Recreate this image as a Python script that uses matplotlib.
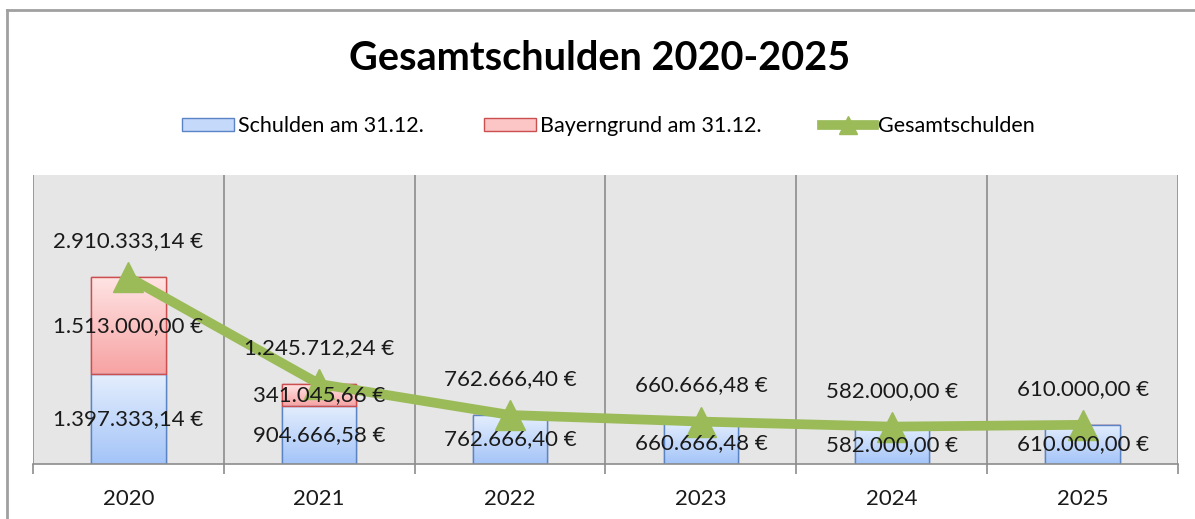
import numpy as np
import matplotlib.pyplot as plt
from matplotlib.patches import Patch
from matplotlib.lines import Line2D
from matplotlib.colors import LinearSegmentedColormap

# Data
years = ['2020', '2021', '2022', '2023', '2024', '2025']
schulden = [1397333.14, 904666.58, 762666.40, 660666.48, 582000.00, 610000.00]
bayerngrund = [1513000.00, 341045.66, 0, 0, 0, 0]
gesamt = [2910333.14, 1245712.24, 762666.40, 660666.48, 582000.00, 610000.00]

plt.rcParams['font.family'] = ['Lato', 'DejaVu Sans']


def euro(v):
    s = f"{v:,.2f}"
    s = s.replace(',', 'X').replace('.', ',').replace('X', '.')
    return s + ' €'


W, H = 1195, 519
fig = plt.figure(figsize=(W / 100, H / 100), dpi=100)

# outer chart border (left and top only visible)
fig.add_artist(Line2D([7 / W, 7 / W], [0, 1 - 10 / H], color='#a0a0a0', lw=2, transform=fig.transFigure))
fig.add_artist(Line2D([7 / W, 1], [1 - 10 / H, 1 - 10 / H], color='#a0a0a0', lw=2, transform=fig.transFigure))

ax = fig.add_axes([33 / W, 1 - 464 / H, (1178 - 33) / W, (464 - 175) / H])
ax.set_facecolor('#e6e6e6')

x = np.arange(len(years))
bw = 0.39
b1 = ax.bar(x, schulden, bw, color='#c5d9fb', edgecolor='#5b84c4', lw=1, zorder=2)
b2 = ax.bar(x, bayerngrund, bw, bottom=schulden, color='#fcc6c6', edgecolor='#cc4f4f', lw=1, zorder=2)

# vertical gradients inside the bars
grad = np.linspace(0, 1, 100).reshape(-1, 1)
cm_blue = LinearSegmentedColormap.from_list('b', ['#a4c4f8', '#e4eefd'])
cm_red = LinearSegmentedColormap.from_list('r', ['#f7a3a3', '#ffe4e4'])
for bars, cm in ((b1, cm_blue), (b2, cm_red)):
    for p in bars:
        if p.get_height() <= 0:
            continue
        x0, y0 = p.get_x(), p.get_y()
        im = ax.imshow(grad, cmap=cm, origin='lower', aspect='auto',
                       extent=[x0, x0 + p.get_width(), y0, y0 + p.get_height()], zorder=2.1)
        im.set_clip_path(p)
        ax.add_patch(plt.Rectangle((x0, y0), p.get_width(), p.get_height(), fill=False,
                                   edgecolor=p.get_edgecolor(), lw=1, zorder=2.2))

ax.plot(x, gesamt, color='#9bbb59', lw=7, marker='^', markersize=21, zorder=4,
        solid_joinstyle='round')

ax.set_xlim(-0.5, len(years) - 0.5)
ax.set_ylim(0, 4500000)

# data labels
tc = '#1a1a1a'
fs = 16
for i in range(len(years)):
    ax.text(x[i], schulden[i] / 2, euro(schulden[i]), ha='center', va='center', fontsize=fs, color=tc, zorder=5)
    if bayerngrund[i] > 0:
        ax.text(x[i], schulden[i] + bayerngrund[i] / 2, euro(bayerngrund[i]), ha='center', va='center',
                fontsize=fs, color=tc, zorder=5)
    ax.annotate(euro(gesamt[i]), (x[i], gesamt[i]), xytext=(0, 36), textcoords='offset pixels',
                ha='center', va='center', fontsize=fs, color=tc, zorder=5)

# category boundary lines
bounds = np.arange(-0.5, len(years), 1.0)
for b in bounds:
    ax.axvline(b, color='#8c8c8c', lw=1.2, zorder=1)

ax.set_xticks(x)
ax.set_xticklabels(years, fontsize=fs, color=tc)
ax.set_xticks(bounds, minor=True)
ax.tick_params(axis='x', which='major', length=0, pad=18)
ax.tick_params(axis='x', which='minor', length=7, color='#8c8c8c', width=1.2)
ax.set_yticks([])
for s in ('top', 'left', 'right'):
    ax.spines[s].set_visible(False)
ax.spines['bottom'].set_color('#8c8c8c')
ax.spines['bottom'].set_linewidth(1.2)

fig.text(0.502, 1 - 58 / H, 'Gesamtschulden 2020-2025', ha='center', va='center',
         fontsize=28.5, fontweight='bold', color='black')

handles = [
    Patch(facecolor='#c5d9fb', edgecolor='#5b84c4', label='Schulden am 31.12.'),
    Patch(facecolor='#fcc6c6', edgecolor='#cc4f4f', label='Bayerngrund am 31.12.'),
    Line2D([], [], color='#9bbb59', lw=7, marker='^', markersize=13, label='Gesamtschulden'),
]
fig.legend(handles=handles, loc='center', bbox_to_anchor=(0.509, 1 - 126 / H), ncol=3, frameon=False,
           fontsize=15.5, handlelength=2.4, handleheight=0.6, handletextpad=0.2, columnspacing=2.8)

fig.savefig('out.png', dpi=100)
